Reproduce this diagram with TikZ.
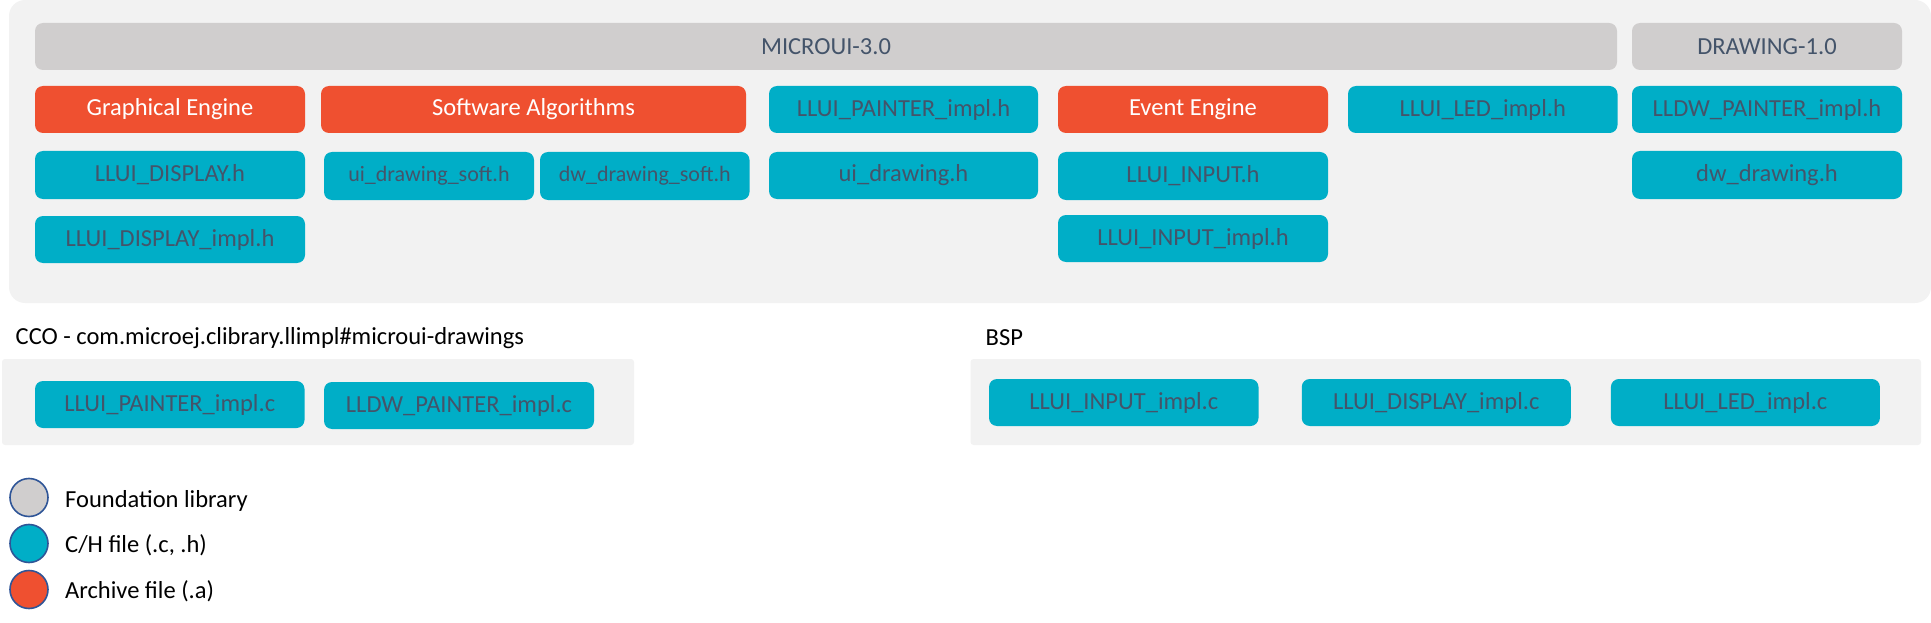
\documentclass[tikz,border=0pt]{standalone}
\usepackage{fontspec}
\setmainfont{Carlito}
\definecolor{panelgray}{HTML}{F2F2F2}
\definecolor{foundgray}{HTML}{D0CECE}
\definecolor{teal}{HTML}{00AEC7}
\definecolor{archorange}{HTML}{EF5030}
\definecolor{boxtext}{HTML}{44546A}
\definecolor{legborder}{HTML}{2F5597}
\tikzset{
  box/.style={inner sep=0pt, rounded corners=8pt, minimum height=47pt, text=boxtext,
     font=\fontsize{24.5}{29}\selectfont},
  foundbox/.style={box, fill=foundgray},
  filebox/.style={box, fill=teal},
  smallfilebox/.style={filebox, font=\fontsize{22}{26}\selectfont},
  archbox/.style={box, fill=archorange, text=white},
  panel/.style={fill=panelgray},
  lbl/.style={inner sep=0pt, anchor=west, text=black, font=\fontsize{24.5}{29}\selectfont},
  legcirc/.style={circle, draw=legborder, line width=1.6pt, minimum size=38pt, inner sep=0pt},
}
\begin{document}
\begin{tikzpicture}[x=1pt, y=-1pt]
\useasboundingbox (0,0) rectangle (1931,623);
% main panel
\fill[panel, rounded corners=16pt] (9,0) rectangle (1931,303);
% foundation libraries
\node[foundbox, minimum width=1582pt] (microui) at (826,46.5) {MICROUI-3.0};
\node[foundbox, minimum width=270pt] (drawing) at (1767,46.5) {DRAWING-1.0};
% row 1
\node[archbox, minimum width=270pt] (ge) at (170,109.5) {Graphical Engine};
\node[archbox, minimum width=425pt] (sa) at (533.5,109.5) {Software Algorithms};
\node[filebox, minimum width=269pt] (lpi) at (903.5,109.5) {LLUI\_PAINTER\_impl.h};
\node[archbox, minimum width=270pt] (ee) at (1193,109.5) {Event Engine};
\node[filebox, minimum width=269.5pt] (led) at (1482.75,109.5) {LLUI\_LED\_impl.h};
\node[filebox, minimum width=270pt] (ldw) at (1767,109.5) {LLDW\_PAINTER\_impl.h};
% row 2
\node[filebox, minimum width=270pt, minimum height=48pt] (disp) at (170,175) {LLUI\_DISPLAY.h};
\node[smallfilebox, minimum width=210pt, minimum height=48pt] (uis) at (429,176) {ui\_drawing\_soft.h};
\node[smallfilebox, minimum width=209.5pt, minimum height=48pt] (dws) at (644.75,176) {dw\_drawing\_soft.h};
\node[filebox, minimum width=269pt] (uid) at (903.5,175.5) {ui\_drawing.h};
\node[filebox, minimum width=270pt, minimum height=48pt] (inp) at (1193,176) {LLUI\_INPUT.h};
\node[filebox, minimum width=270pt, minimum height=48pt] (dwd) at (1767,175) {dw\_drawing.h};
% row 3
\node[filebox, minimum width=270pt] (dispi) at (170,239.5) {LLUI\_DISPLAY\_impl.h};
\node[filebox, minimum width=270pt] (inpi) at (1193,238.5) {LLUI\_INPUT\_impl.h};
% CCO
\node[lbl] (ccolbl) at (15.5,338) {CCO - com.microej.clibrary.llimpl\#microui-drawings};
\fill[panel, rounded corners=3pt] (2,359) rectangle (634,445);
\node[filebox, minimum width=269.5pt] (lpic) at (169.75,404.5) {LLUI\_PAINTER\_impl.c};
\node[filebox, minimum width=270pt] (ldwc) at (459,405.5) {LLDW\_PAINTER\_impl.c};
% BSP
\node[lbl] (bsplbl) at (985.5,338) {BSP};
\fill[panel, rounded corners=3pt] (970.5,359) rectangle (1921,445);
\node[filebox, minimum width=269.5pt] (inpc) at (1123.75,402.5) {LLUI\_INPUT\_impl.c};
\node[filebox, minimum width=269pt] (dispc) at (1436.25,402.5) {LLUI\_DISPLAY\_impl.c};
\node[filebox, minimum width=269pt] (ledc) at (1745.4,402.5) {LLUI\_LED\_impl.c};
% legend
\node[legcirc, fill=foundgray] (lg1) at (29,497.5) {};
\node[legcirc, fill=teal] (lg2) at (29,543.5) {};
\node[legcirc, fill=archorange] (lg3) at (29,589.5) {};
\node[lbl] (lt1) at (65,501) {Foundation library};
\node[lbl] (lt2) at (65,545) {C/H file (.c, .h)};
\node[lbl] (lt3) at (65,591) {Archive file (.a)};
\end{tikzpicture}
\end{document}
